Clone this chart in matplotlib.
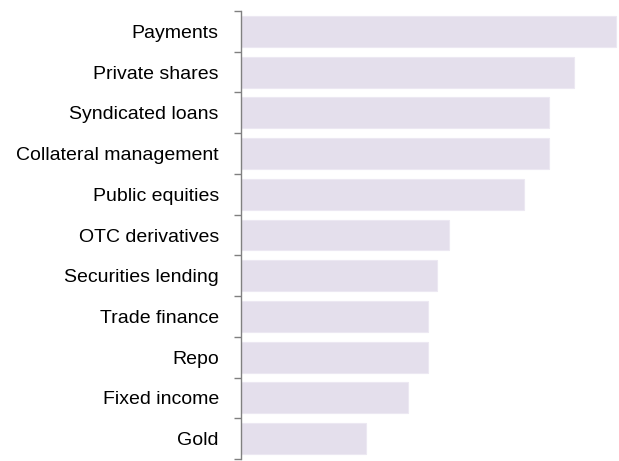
import matplotlib.pyplot as plt
import numpy as np

plt.rcParams['font.family'] = ['Liberation Sans', 'DejaVu Sans']

categories = ["Payments", "Private shares", "Syndicated loans", "Collateral management",
              "Public equities", "OTC derivatives", "Securities lending", "Trade finance",
              "Repo", "Fixed income", "Gold"]
values = [45, 40, 37, 37, 34, 25, 23.5, 22.5, 22.5, 20, 15]

fig = plt.figure(figsize=(6.19, 4.61), dpi=100)
ax = fig.add_axes([241 / 619, 2 / 461, 378 / 619, 448 / 461])

y = np.arange(len(categories))
ax.barh(y, values, height=0.76, color="#E4DFEC", edgecolor="#ECE8F2", linewidth=0.8)

ax.set_ylim(len(categories) - 0.5, -0.5)
ax.set_xlim(0, 45.4)

ax.set_yticks(y)
ax.set_yticklabels(categories, fontsize=14)
ax.tick_params(axis="y", which="major", length=0, pad=16)
ax.set_yticks(np.arange(-0.5, len(categories)), minor=True)
ax.tick_params(axis="y", which="minor", length=5, width=1, color="#808080", direction="out")

ax.set_xticks([])
for s in ["top", "right", "bottom"]:
    ax.spines[s].set_visible(False)
ax.spines["left"].set_color("#808080")
ax.spines["left"].set_linewidth(1)

fig.savefig("out.png", dpi=100)
